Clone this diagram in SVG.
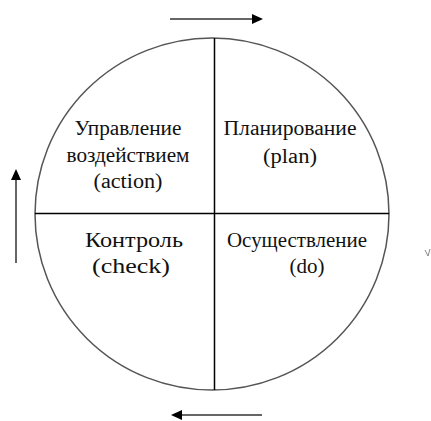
<svg xmlns="http://www.w3.org/2000/svg" width="431" height="421" viewBox="0 0 431 421">
<style>
text{font-family:'Liberation Serif','DejaVu Serif','Times New Roman',Times,serif;font-size:20px;fill:#111;text-anchor:middle}
.arr{stroke:#666;stroke-width:2;fill:none}
.ah{fill:#000}
</style>
<rect width="431" height="421" fill="#fff"/>
<g id="circle">
<ellipse cx="212" cy="214" rx="177" ry="176" fill="none" stroke="#555" stroke-width="1.5"/>
</g>
<g id="connectors">
<line x1="214.5" y1="38" x2="214.5" y2="390" stroke="#000" stroke-width="1.5"/>
<line x1="35" y1="213.5" x2="389" y2="213.5" stroke="#000" stroke-width="1.5"/>
<line class="arr" x1="170" y1="19" x2="254" y2="19"/>
<polygon class="ah" points="252,14 263,19 252,24"/>
<line class="arr" x1="16" y1="263" x2="16" y2="178"/>
<polygon class="ah" points="11,180 16,169 21,180"/>
<line class="arr" x1="262" y1="415" x2="180" y2="415"/>
<polygon class="ah" points="182,410 171,415 182,420"/>
<path d="M425,250 L428,256 L430,249" stroke="#888" stroke-width="1" fill="none"/>
</g>
<g id="action" font-family="Liberation Serif, serif">
<text x="128" y="135" textLength="107" lengthAdjust="spacingAndGlyphs">Управление</text>
<text x="128" y="162" textLength="123" lengthAdjust="spacingAndGlyphs">воздействием</text>
<text x="128" y="188" textLength="69" lengthAdjust="spacingAndGlyphs">(action)</text>
</g>
<g id="plan">
<text x="290" y="135" textLength="133" lengthAdjust="spacingAndGlyphs">Планирование</text>
<text x="290" y="163" textLength="54" lengthAdjust="spacingAndGlyphs">(plan)</text>
</g>
<g id="check">
<text x="134" y="247" textLength="98" lengthAdjust="spacingAndGlyphs">Контроль</text>
<text x="131" y="273" textLength="78" lengthAdjust="spacingAndGlyphs">(check)</text>
</g>
<g id="do">
<text x="297" y="247" textLength="140" lengthAdjust="spacingAndGlyphs">Осуществление</text>
<text x="307" y="273" textLength="35" lengthAdjust="spacingAndGlyphs">(do)</text>
</g>
</svg>
